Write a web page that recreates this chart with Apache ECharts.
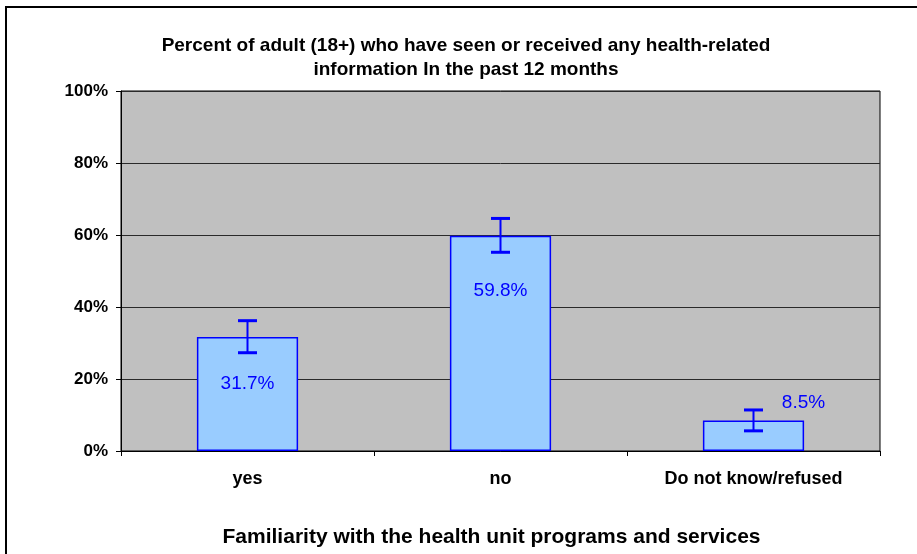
<!DOCTYPE html>
<html>
<head>
<meta charset="utf-8">
<script src="https://cdn.jsdelivr.net/npm/echarts@6/dist/echarts.min.js"></script>
<style>
  html, body { margin: 0; padding: 0; background: #fff; }
  #chart { width: 917px; height: 554px; }
</style>
</head>
<body>
<div id="chart"></div>
<script>
// data
var categories = ["yes", "no", "Do not know/refused"];
var percents = [31.7, 59.8, 8.5];
var errLow = [27.3, 55.2, 5.6];
var errHigh = [36.2, 64.6, 11.4];
var yTicks = [0, 20, 40, 60, 80, 100];

var blue = "#0000FF";
var font = "Liberation Sans, Arial, sans-serif";

// label placement per bar (the labels sit by hand in the original)
var labelPlace = [
  { position: "insideTop", offset: [0, 32] },
  { position: "insideTop", offset: [0, 41] },
  { position: "top", offset: [50, -3] }
];

var chart = echarts.init(document.getElementById("chart"));

var option = {
  animation: false,
  backgroundColor: "#fff",
  title: {
    text: "Percent of adult (18+) who have seen or received any health-related\ninformation In the past 12 months",
    left: 461,
    textAlign: "center",
    top: 29,
    textStyle: { fontFamily: font, fontWeight: "bold", fontSize: 19, lineHeight: 24, color: "#000" }
  },
  grid: {
    left: 121, top: 91, width: 759, height: 360,
    outerBoundsMode: "none",
    show: true, backgroundColor: "#C0C0C0", borderColor: "#000", borderWidth: 1
  },
  xAxis: {
    type: "category",
    data: categories,
    name: "Familiarity with the health unit programs and services",
    nameLocation: "middle",
    nameGap: 76,
    nameTextStyle: { fontFamily: font, fontWeight: "bold", fontSize: 21, color: "#000", padding: [0, 18, 0, 0] },
    axisLine: { lineStyle: { color: "#000", width: 1 } },
    axisTick: { show: true, length: 5, lineStyle: { color: "#000" } },
    axisLabel: { fontFamily: font, fontWeight: "bold", fontSize: 18, color: "#000", margin: 19 }
  },
  yAxis: {
    type: "value",
    min: yTicks[0],
    max: yTicks[yTicks.length - 1],
    interval: 20,
    axisLine: { show: true, lineStyle: { color: "#000" } },
    axisTick: { show: true, length: 5, lineStyle: { color: "#000" } },
    splitLine: { lineStyle: { color: "#2a2a2a", width: 1 } },
    axisLabel: { fontFamily: font, fontWeight: "bold", fontSize: 17, color: "#000", margin: 13, formatter: "{value}%" }
  },
  graphic: [
    { type: "rect", shape: { x: 6, y: 7, width: 1000, height: 1000 }, style: { fill: null, stroke: "#000", lineWidth: 2 }, silent: true }
  ],
  series: [
    {
      type: "bar",
      barWidth: "40%",
      data: percents.map(function (v, i) {
        return {
          value: v,
          label: {
            show: true,
            position: labelPlace[i].position,
            offset: labelPlace[i].offset,
            formatter: v.toFixed(1) + "%",
            fontFamily: font,
            fontSize: 19,
            color: blue
          }
        };
      }),
      itemStyle: { color: "#99CCFF", borderColor: blue, borderWidth: 1.5 },
      z: 2
    },
    {
      type: "custom",
      z: 3,
      data: categories.map(function (c, i) { return [i, errLow[i], errHigh[i]]; }),
      renderItem: function (params, api) {
        var hi = api.coord([api.value(0), api.value(2)]);
        var lo = api.coord([api.value(0), api.value(1)]);
        var half = 9.5;
        var st = { stroke: blue, lineWidth: 2 };
        var cap = { stroke: blue, lineWidth: 3 };
        return {
          type: "group",
          children: [
            { type: "line", shape: { x1: hi[0], y1: hi[1], x2: lo[0], y2: lo[1] }, style: st },
            { type: "line", shape: { x1: hi[0] - half, y1: hi[1], x2: hi[0] + half, y2: hi[1] }, style: cap },
            { type: "line", shape: { x1: lo[0] - half, y1: lo[1], x2: lo[0] + half, y2: lo[1] }, style: cap }
          ]
        };
      }
    }
  ]
};

chart.setOption(option);
</script>
</body>
</html>
